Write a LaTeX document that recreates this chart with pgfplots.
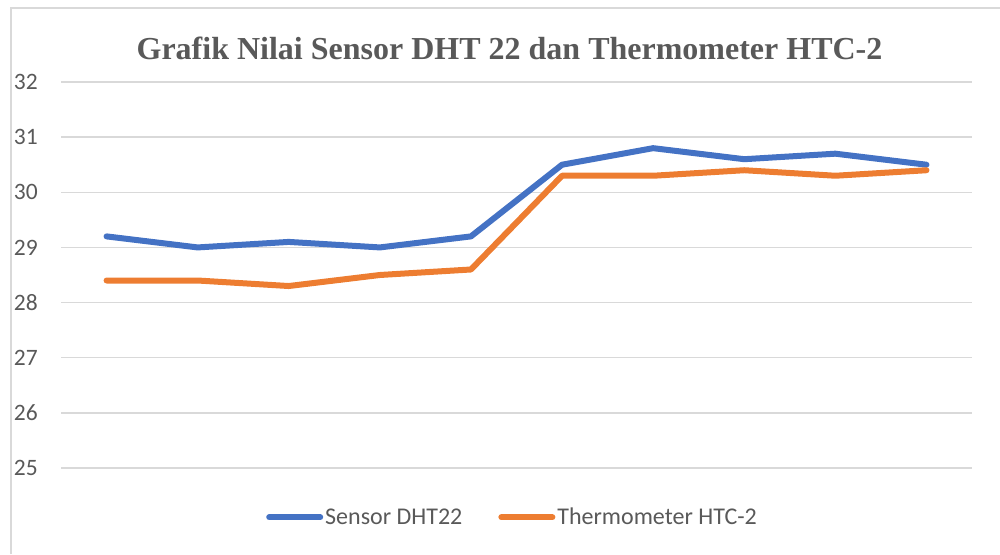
\documentclass[border=0pt]{standalone}
\usepackage{pgfplots}
\pgfplotsset{compat=1.18}
\usepackage{fontspec}
\setmainfont{Liberation Serif}
\newfontfamily\carlito{Carlito}
\definecolor{txtgray}{HTML}{595959}
\definecolor{gridgray}{HTML}{D9D9D9}
\definecolor{xblue}{HTML}{4472C4}
\definecolor{xorange}{HTML}{ED7D31}
\begin{document}
\begin{tikzpicture}[x=1pt,y=1pt]
\path[use as bounding box] (0,0) rectangle (1000,554);
\draw[gridgray,line width=2pt] (10.5,0) -- (10.5,545.5) -- (1000,545.5);
\node[font=\fontsize{32}{38}\selectfont\bfseries,text=txtgray,inner sep=0pt] at (509.5,506) {Grafik Nilai Sensor DHT 22 dan Thermometer HTC-2};
\begin{axis}[
  at={(61pt,86pt)}, anchor=south west,
  scale only axis, width=911pt, height=386pt,
  xmin=-0.5, xmax=9.5, ymin=25, ymax=32,
  ytick={25,...,32},
  xtick=\empty,
  axis line style={draw=none},
  ymajorgrids, major grid style={gridgray,line width=1.5pt},
  major tick length=0pt,
  /pgf/number format/assume math mode=true,
  yticklabel style={font=\fontsize{23.5}{28}\selectfont\carlito,text=txtgray,inner sep=0pt,anchor=east,xshift=-23pt},
  legend style={at={(0.5,-0.0)},anchor=north,yshift=-38pt,xshift=-4pt,draw=none,fill=none,
    font=\fontsize{24}{28}\selectfont\carlito,text=txtgray,
    /tikz/every even column/.append style={column sep=34pt},inner sep=0pt},
  legend columns=2,
  legend cell align=left,
  legend image code/.code={\draw[#1,line cap=round] (0pt,0pt) -- (51pt,0pt);},
  clip=false,
]
\addplot[xblue,line width=6pt,line join=round,line cap=round] coordinates {
(0,29.2) (1,29.0) (2,29.1) (3,29.0) (4,29.2) (5,30.5) (6,30.8) (7,30.6) (8,30.7) (9,30.5)};
\addlegendentry{Sensor DHT22}
\addplot[xorange,line width=6pt,line join=round,line cap=round] coordinates {
(0,28.4) (1,28.4) (2,28.3) (3,28.5) (4,28.6) (5,30.3) (6,30.3) (7,30.4) (8,30.3) (9,30.4)};
\addlegendentry{Thermometer HTC-2}
\end{axis}
\end{tikzpicture}
\end{document}
